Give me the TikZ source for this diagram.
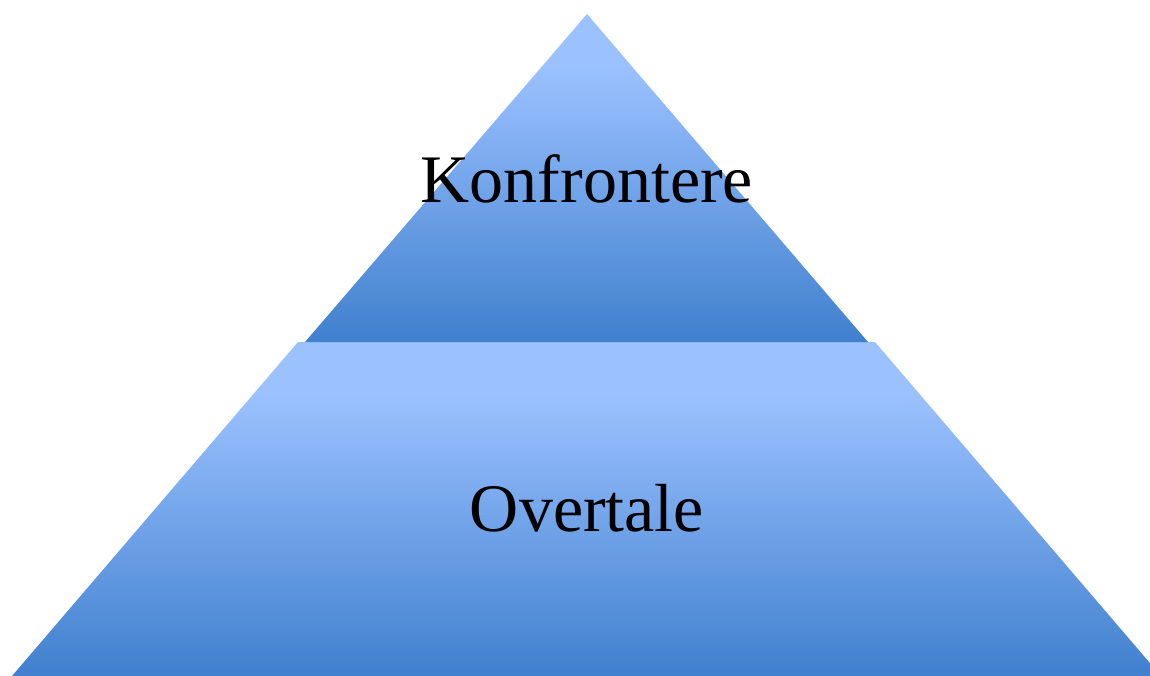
\documentclass[tikz,border=0pt]{standalone}
\usepackage{fontspec}
\setmainfont{Liberation Serif}
\definecolor{pyrlight}{RGB}{155,193,255}
\definecolor{pyrdark}{RGB}{64,128,206}
\pgfdeclareverticalshading{pyrshade}{100bp}{color(0bp)=(pyrdark); color(25bp)=(pyrdark); color(67bp)=(pyrlight); color(75bp)=(pyrlight); color(100bp)=(pyrlight)}
\tikzset{
  layer/.style={shading=pyrshade, draw=none},
  label/.style={font=\fontsize{68}{80}\selectfont, text=black, inner sep=0pt, anchor=base}
}
\begin{document}
\begin{tikzpicture}[x=1pt,y=-1pt]
\useasboundingbox (0,0) rectangle (1150,676);
\clip (0,0) rectangle (1150,676);
% bottom layer
\shade[layer] (298,342) -- (875,342) -- (1161,676) -- (12,676) -- cycle;
% top layer
\shade[layer] (587,14) -- (868,342) -- (305,342) -- cycle;
% labels
\node[label] (k) at (587,203) {Konfrontere};
\node[label] (o) at (587,531) {Overtale};
\end{tikzpicture}
\end{document}
